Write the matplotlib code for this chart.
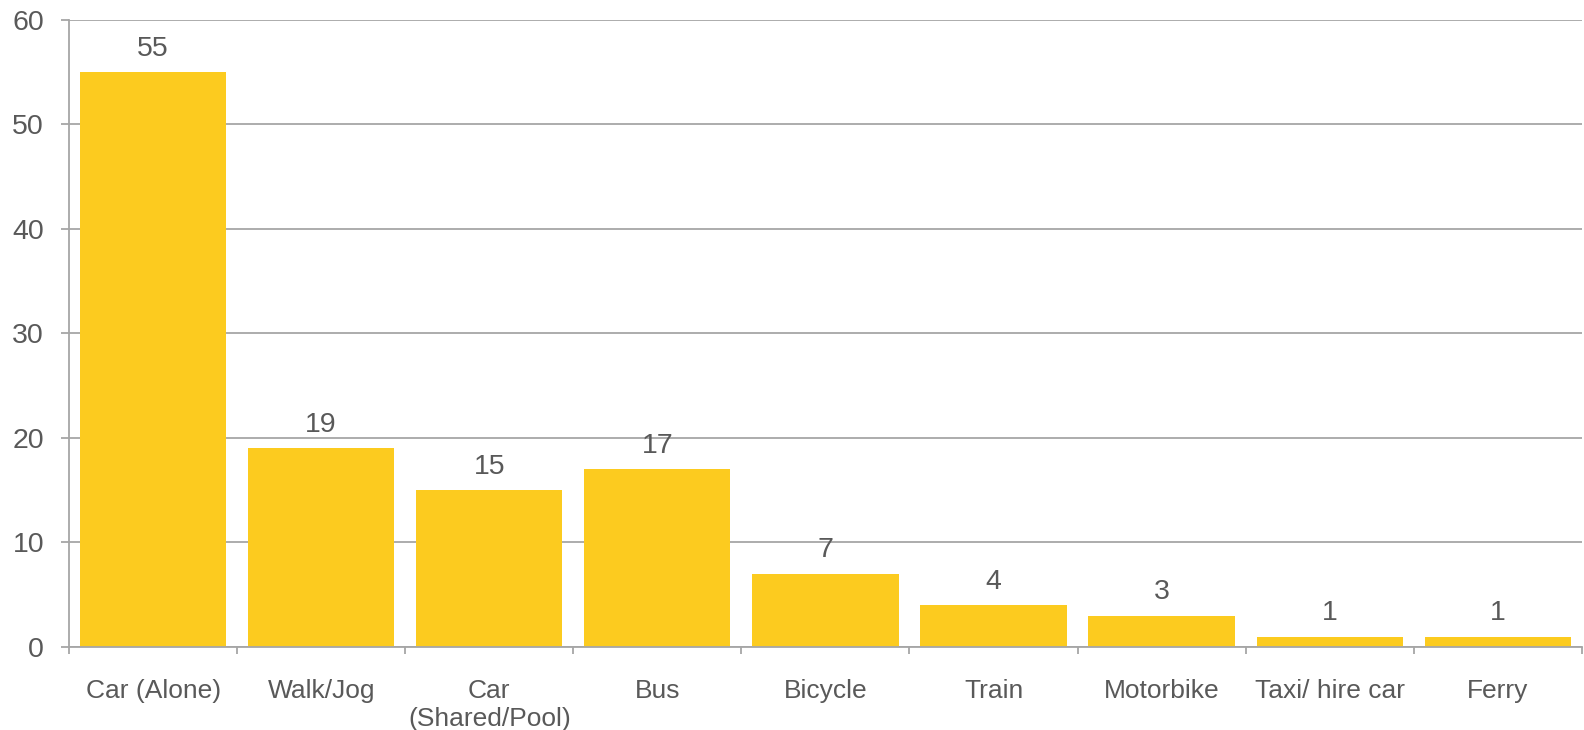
import matplotlib
matplotlib.use('agg')
import matplotlib.pyplot as plt
import numpy as np

categories = ['Car (Alone)', 'Walk/Jog', 'Car\n(Shared/Pool)', 'Bus', 'Bicycle',
              'Train', 'Motorbike', 'Taxi/ hire car', 'Ferry']
values = [55, 19, 15, 17, 7, 4, 3, 1, 1]

plt.rcParams['font.family'] = ['Liberation Sans', 'DejaVu Sans']
txt_col = '#595959'
grid_col = '#a6a6a6'
fs = 19      # category labels
nfs = 20.5   # numbers

fig = plt.figure(figsize=(15.84, 7.30), dpi=100)
ax = fig.add_axes([0.0436, 0.1137, 0.955, 0.859])

x = np.arange(len(categories))
bars = ax.bar(x, values, width=0.87, color='#fccb1f', zorder=3)
for b, v in zip(bars, values):
    ax.text(b.get_x() + b.get_width() / 2, v + 1.0, str(v), ha='center', va='bottom',
            fontsize=nfs, color=txt_col)

ax.set_xlim(-0.5, len(categories) - 0.5)
ax.set_ylim(0, 60)
ax.set_yticks(range(0, 61, 10))
ax.yaxis.grid(True, color=grid_col, linewidth=1.3, zorder=0)

ax.set_xticks(x)
ax.set_xticklabels(categories, fontsize=fs, color=txt_col, linespacing=1.2)
ax.set_xticks(np.arange(-0.5, len(categories)), minor=True)
ax.tick_params(axis='x', which='major', length=0, pad=23)
ax.tick_params(axis='x', which='minor', length=5, width=1.3, color=grid_col)
ax.tick_params(axis='y', length=6, width=1.3, color=grid_col, labelsize=nfs,
               labelcolor=txt_col, pad=12)

for s in ['top', 'right']:
    ax.spines[s].set_visible(False)
for s in ['left', 'bottom']:
    ax.spines[s].set_color(grid_col)
    ax.spines[s].set_linewidth(1.3)
    ax.spines[s].set_zorder(4)

fig.savefig('out.png', dpi=100)
